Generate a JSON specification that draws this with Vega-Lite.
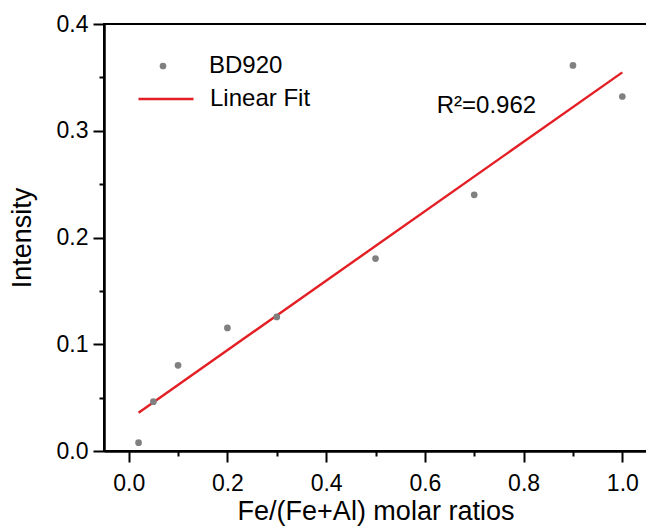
{
  "$schema": "https://vega.github.io/schema/vega-lite/v6.json",
  "width": 543,
  "height": 427,
  "autosize": {"type": "none"},
  "padding": {"left": 104, "top": 24, "right": 0, "bottom": 75},
  "background": "white",
  "config": {
    "font": "Liberation Sans",
    "view": {"stroke": "black", "strokeWidth": 2},
    "axis": {
      "grid": false,
      "domainColor": "black",
      "domainWidth": 2,
      "tickColor": "black",
      "tickWidth": 2,
      "labelFont": "Liberation Sans",
      "labelFontSize": 23,
      "labelColor": "black",
      "titleFont": "Liberation Sans",
      "titleFontSize": 27,
      "titleFontWeight": "normal",
      "titleColor": "black"
    },
    "legend": {
      "labelFont": "Liberation Sans",
      "labelFontSize": 24,
      "labelColor": "black",
      "padding": 0
    }
  },
  "datasets": {
    "pts": [
      {"ratio": 0.02, "intensity": 0.0078, "series": "BD920"},
      {"ratio": 0.05, "intensity": 0.0462, "series": "BD920"},
      {"ratio": 0.1, "intensity": 0.0803, "series": "BD920"},
      {"ratio": 0.2, "intensity": 0.1153, "series": "BD920"},
      {"ratio": 0.3, "intensity": 0.1256, "series": "BD920"},
      {"ratio": 0.5, "intensity": 0.1803, "series": "BD920"},
      {"ratio": 0.7, "intensity": 0.240, "series": "BD920"},
      {"ratio": 0.9, "intensity": 0.3612, "series": "BD920"},
      {"ratio": 1.0, "intensity": 0.3321, "series": "BD920"}
    ],
    "fit": [
      {"ratio": 0.02, "intensity": 0.0359, "series": "Linear Fit"},
      {"ratio": 1.0, "intensity": 0.3547, "series": "Linear Fit"}
    ],
    "note": [
      {"ratio": 0.624, "intensity": 0.317, "label": "R²=0.962"}
    ]
  },
  "layer": [
    {
      "data": {"name": "pts"},
      "mark": {"type": "point", "opacity": 0},
      "encoding": {
        "x": {
          "field": "ratio", "type": "quantitative",
          "scale": {"domain": [-0.05, 1.05], "nice": false, "zero": false},
          "axis": {"orient": "bottom", "values": [0.1, 0.3, 0.5, 0.7, 0.9], "labels": false, "tickSize": 5, "title": null}
        },
        "y": {
          "field": "intensity", "type": "quantitative",
          "scale": {"domain": [0, 0.4], "nice": false},
          "axis": {"orient": "left", "values": [0.05, 0.15, 0.25, 0.35], "labels": false, "tickSize": 5, "title": null}
        }
      }
    },
    {
      "data": {"name": "fit"},
      "mark": {"type": "line", "strokeWidth": 2.4},
      "encoding": {
        "x": {"field": "ratio", "type": "quantitative", "axis": null},
        "y": {"field": "intensity", "type": "quantitative", "axis": null},
        "stroke": {
          "field": "series", "type": "nominal",
          "scale": {"range": ["#e31e24"]},
          "legend": {
            "title": null, "orient": "none", "legendX": 33, "legendY": 46,
            "symbolType": "stroke", "symbolSize": 3025, "symbolStrokeWidth": 2.4,
            "labelOffset": 15
          }
        }
      }
    },
    {
      "data": {"name": "pts"},
      "mark": {"type": "point", "filled": true, "size": 45, "opacity": 1},
      "encoding": {
        "x": {
          "field": "ratio", "type": "quantitative",
          "axis": {"orient": "bottom", "values": [0, 0.2, 0.4, 0.6, 0.8, 1.0], "format": ".1f", "tickSize": 11, "labelPadding": 10, "title": "Fe/(Fe+Al) molar ratios", "titleFontSize": 27, "titlePadding": 3}
        },
        "y": {
          "field": "intensity", "type": "quantitative",
          "axis": {"orient": "left", "values": [0, 0.1, 0.2, 0.3, 0.4], "format": ".1f", "tickSize": 11, "labelPadding": 5, "title": "Intensity", "titlePadding": 20}
        },
        "fill": {
          "field": "series", "type": "nominal",
          "scale": {"range": ["#808080"]},
          "legend": {
            "title": null, "orient": "none", "legendX": 47, "legendY": 30,
            "symbolType": "circle", "symbolSize": 45, "symbolStrokeWidth": 0,
            "labelOffset": 34
          }
        }
      }
    },
    {
      "data": {"name": "note"},
      "mark": {"type": "text", "align": "left", "baseline": "alphabetic", "fontSize": 24, "font": "Liberation Sans", "color": "black"},
      "encoding": {
        "x": {"field": "ratio", "type": "quantitative", "axis": null},
        "y": {"field": "intensity", "type": "quantitative", "axis": null},
        "text": {"field": "label"}
      }
    }
  ],
  "resolve": {"axis": {"x": "independent", "y": "independent"}}
}
